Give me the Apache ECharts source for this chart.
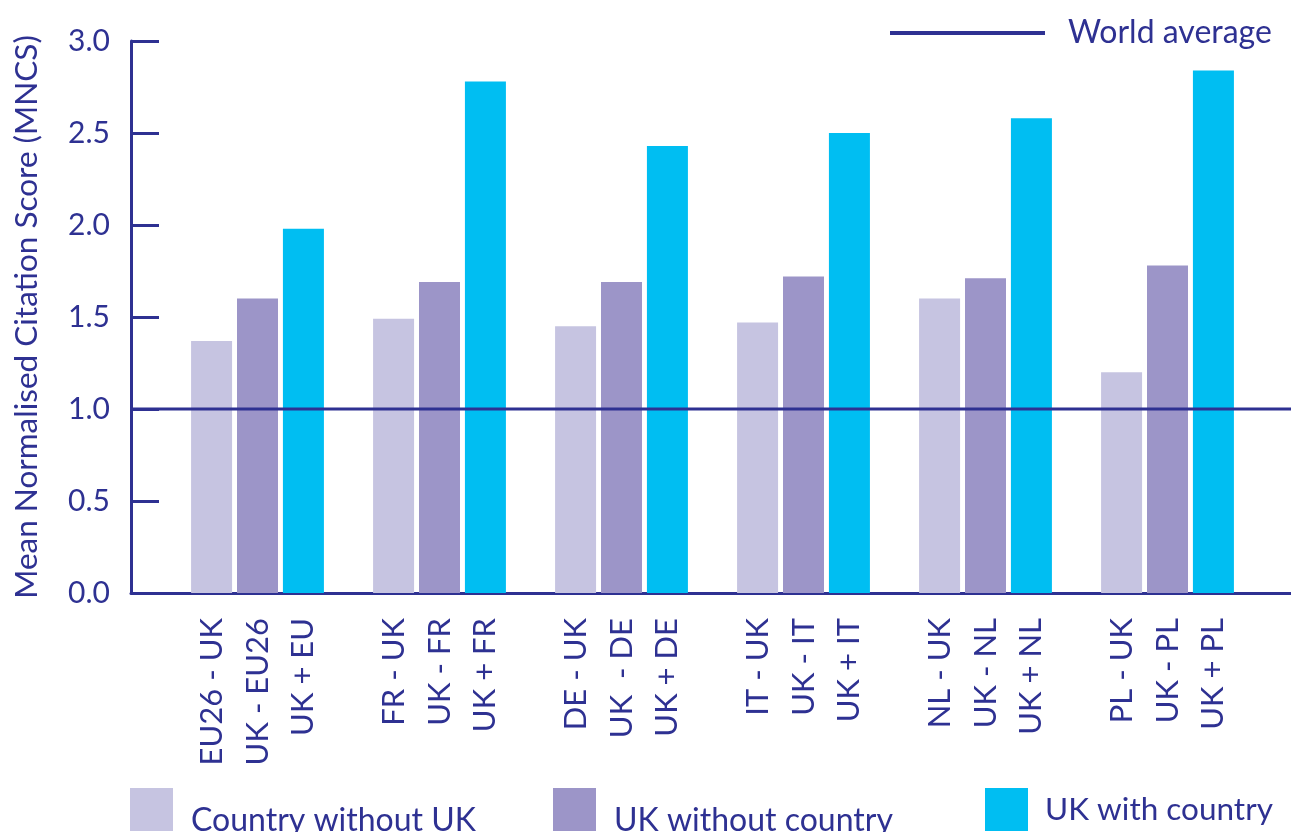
<!DOCTYPE html>
<html><head><meta charset="utf-8">
<script src="https://cdn.jsdelivr.net/npm/echarts@6/dist/echarts.min.js"></script>
<style>html,body{margin:0;padding:0;background:#fff}#c{width:1291px;height:832px}</style>
</head><body><div id="c"></div>
<script>
const groups = ['EU26','FR','DE','IT','NL','PL'];
const labelsCountryWithoutUK = ['EU26 - UK','FR - UK','DE - UK','IT - UK','NL - UK','PL - UK'];
const labelsUKWithoutCountry = ['UK - EU26','UK - FR','UK  - DE','UK - IT','UK - NL','UK - PL'];
const labelsUKWithCountry = ['UK + EU','UK + FR','UK + DE','UK + IT','UK + NL','UK + PL'];
const countryWithoutUK = [1.37,1.49,1.45,1.47,1.60,1.20];
const ukWithoutCountry = [1.60,1.69,1.69,1.72,1.71,1.78];
const ukWithCountry = [1.98,2.78,2.43,2.50,2.58,2.84];
const worldAverage = [1.0,1.0];
const yTicks = [0,0.5,1.0,1.5,2.0,2.5,3.0];

const NAVY = '#2e3192';
const C1 = '#c6c4e1', C2 = '#9c95c8', C3 = '#00bef2';
const FONT = 'Lato';
// square on top of a taller icon box, so the legend text sits lower
const LOW_ICON = 'path://M0,0H43V43H0Z M0,65.9H0.1V66H0Z';

function barLabel(names){
  return {show:true, position:'bottom', rotate:90, align:'right', verticalAlign:'middle',
    distance:25, color:NAVY, fontFamily:FONT, fontSize:31,
    formatter:p=>names[p.dataIndex]};
}

const chart = echarts.init(document.getElementById('c'));
chart.setOption({
  animation:false,
  textStyle:{fontFamily:FONT,color:NAVY},
  grid:[
    {left:131,right:0,top:41,height:552,outerBoundsMode:'none',containLabel:false},
    {left:166.5,width:1092,top:41,height:552,outerBoundsMode:'none',containLabel:false}
  ],
  xAxis:[
    {gridIndex:0,type:'category',boundaryGap:false,data:['',''],
      axisLine:{show:true,lineStyle:{color:NAVY,width:3}},axisTick:{show:false},axisLabel:{show:false},splitLine:{show:false}},
    {gridIndex:1,type:'category',data:groups,axisLine:{show:false},axisTick:{show:false},axisLabel:{show:false}}
  ],
  yAxis:[
    {gridIndex:0,type:'value',min:yTicks[0],max:yTicks[yTicks.length-1],interval:0.5,
      name:'Mean Normalised Citation Score (MNCS)',nameLocation:'middle',nameRotate:90,nameGap:88,
      nameTextStyle:{color:NAVY,fontSize:31.5,fontFamily:FONT},
      axisLine:{show:true,lineStyle:{color:NAVY,width:3}},
      axisTick:{show:true,inside:true,length:28,lineStyle:{color:NAVY,width:3}},
      axisLabel:{color:NAVY,fontSize:30,fontFamily:FONT,margin:21,formatter:v=>v.toFixed(1)},
      splitLine:{show:false}},
    {gridIndex:1,type:'value',min:0,max:3,show:false,splitLine:{show:false}}
  ],
  legend:[
    {left:890,top:17,padding:0,itemWidth:155,itemHeight:4,itemGap:10,
      data:[{name:'World average',icon:'rect'}],
      textStyle:{color:NAVY,fontSize:32,fontFamily:FONT,padding:[0,0,0,18]}},
    {left:130,top:788,padding:0,itemWidth:43,itemHeight:66,
      data:[{name:'Country without UK',icon:LOW_ICON}],
      textStyle:{color:NAVY,fontSize:32,fontFamily:FONT,padding:[0,0,0,13]}},
    {left:553,top:788,padding:0,itemWidth:43,itemHeight:66,
      data:[{name:'UK without country',icon:LOW_ICON}],
      textStyle:{color:NAVY,fontSize:32,fontFamily:FONT,padding:[0,0,0,13]}},
    {left:985,top:788,padding:0,itemWidth:43,itemHeight:43,
      data:[{name:'UK with country',icon:'rect'}],
      textStyle:{color:NAVY,fontSize:31.5,fontFamily:FONT,padding:[0,0,0,12]}}
  ],
  series:[
    {name:'Country without UK',type:'bar',xAxisIndex:1,yAxisIndex:1,data:countryWithoutUK,
      barWidth:41,barGap:'12%',itemStyle:{color:C1},label:barLabel(labelsCountryWithoutUK)},
    {name:'UK without country',type:'bar',xAxisIndex:1,yAxisIndex:1,data:ukWithoutCountry,
      barWidth:41,barGap:'12%',itemStyle:{color:C2},label:barLabel(labelsUKWithoutCountry)},
    {name:'UK with country',type:'bar',xAxisIndex:1,yAxisIndex:1,data:ukWithCountry,
      barWidth:41,barGap:'12%',itemStyle:{color:C3},label:barLabel(labelsUKWithCountry)},
    {name:'World average',type:'line',xAxisIndex:0,yAxisIndex:0,data:worldAverage,
      symbol:'none',lineStyle:{color:NAVY,width:3},itemStyle:{color:NAVY},z:5}
  ]
});
</script></body></html>
